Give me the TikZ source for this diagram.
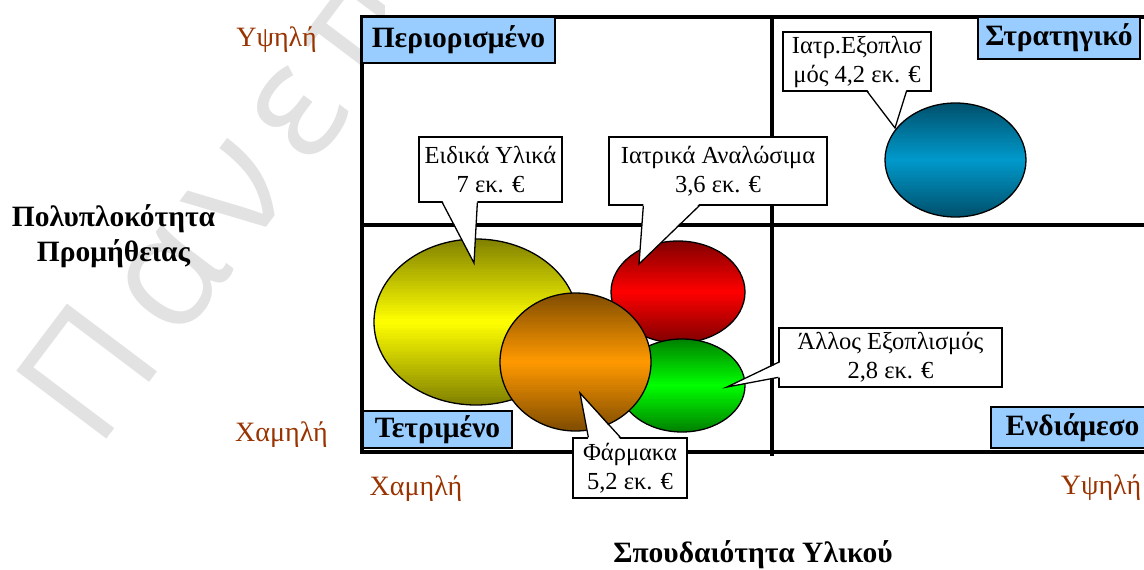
\documentclass[tikz,border=0pt]{standalone}
\usepackage{fontspec}
\setmainfont{Liberation Serif}
\newfontfamily\wmfont[LetterSpace=12]{Open Sans}
\usetikzlibrary{shapes.geometric,calc}
\definecolor{axbrown}{HTML}{993300}
\definecolor{lblue}{HTML}{99CCFF}
\definecolor{wmgray}{RGB}{226,226,226}
\definecolor{yelD}{HTML}{808000}
\definecolor{yelL}{HTML}{FFFF00}
\definecolor{redD}{HTML}{800000}
\definecolor{redL}{HTML}{FF0000}
\definecolor{grnD}{HTML}{008000}
\definecolor{grnL}{HTML}{00FF00}
\definecolor{orgD}{HTML}{7F4C00}
\definecolor{orgL}{HTML}{FF9900}
\definecolor{bluD}{HTML}{00506B}
\definecolor{bluL}{HTML}{0099CC}
\tikzset{
  callbox/.style={draw=black, line width=1.3pt, fill=white, inner sep=0pt, align=center,
    font=\fontsize{24.5}{29}\selectfont},
  quadlabel/.style={draw=black, line width=1.3pt, fill=lblue, inner sep=0pt,
    font=\fontsize{29.5}{32}\bfseries\selectfont},
  bubble/.style={ellipse, draw=black, line width=1.3pt, inner sep=0pt},
  axlabel/.style={text=axbrown, inner sep=0pt, anchor=base, font=\fontsize{28}{32}\selectfont},
  axtitle/.style={align=center, inner sep=0pt, font=\fontsize{29.5}{35}\bfseries\selectfont},
  gridline/.style={line width=4.5pt},
  ptrline/.style={line width=1.3pt, line join=miter}
}
% vertical gradient (dark-light-dark) inside an ellipse: cx, cy, rx, ry, dark, light
\newcommand\gradbubble[6]{%
  \begin{scope}
    \clip (#1,#2) ellipse [x radius=#3, y radius=#4];
    \foreach \i in {0,...,59}{%
      \pgfmathsetmacro\pp{100*(1-abs(2*(\i+0.5)/60-1))}%
      \fill[#6!\pp!#5] (#1-#3-2, #2-#4+\i*#4/30) rectangle (#1+#3+2, #2-#4+\i*#4/30+#4/30+0.6);
    }
  \end{scope}}
\begin{document}
\begin{tikzpicture}[x=1pt,y=-1pt]
\useasboundingbox (0,0) rectangle (1144,570);
\fill[white] (0,0) rectangle (1144,570);
% watermark
\begin{scope}
\clip (0,0) rectangle (384,570);
\node[anchor=base west, rotate=53, inner sep=0pt, text=wmgray, font=\fontsize{158}{158}\wmfont] (wm) at (97,452) {Πανεπιστήμιο};
\end{scope}
% grid
\fill[white] (362,17) rectangle (1152,452);
\draw[gridline] (362,17) rectangle (1152,452);
\draw[gridline] (362,225) -- (1152,225);
\draw[gridline] (772,17) -- (772,456);
% bubbles
\gradbubble{476}{322}{102}{83}{yelD}{yelL}
\node[bubble, minimum width=204pt, minimum height=166pt] (yel) at (476,322) {};
\gradbubble{678}{292}{67}{51}{redD}{redL}
\node[bubble, minimum width=134pt, minimum height=102pt] (red) at (678,292) {};
\gradbubble{682}{385.5}{63}{46.5}{grnD}{grnL}
\node[bubble, minimum width=126pt, minimum height=93pt] (grn) at (682,385.5) {};
\gradbubble{575.5}{362}{75.5}{69}{orgD}{orgL}
\node[bubble, minimum width=151pt, minimum height=138pt] (org) at (575.5,362) {};
\gradbubble{955.5}{160}{70.5}{57}{bluD}{bluL}
\node[bubble, minimum width=141pt, minimum height=114pt] (blu) at (955.5,160) {};
% callout 1
\node[callbox, minimum width=143pt, minimum height=65pt] (c1) at (490.5,169.5) {Ειδικά Υλικά\\7 εκ. €};
\coordinate (t1) at (474,263);
\fill[white] ($(c1.south west)+(24,-2)$) -- (t1) -- ($(c1.south west)+(59,-2)$) -- cycle;
\draw[ptrline] ($(c1.south west)+(24,0)$) -- (t1) -- ($(c1.south west)+(59,0)$);
% callout 2
\node[callbox, minimum width=218pt, minimum height=68pt] (c2) at (718,171) {Ιατρικά Αναλώσιμα\\3,6 εκ. €};
\coordinate (t2) at (639,264);
\fill[white] ($(c2.south west)+(35,-2)$) -- (t2) -- ($(c2.south west)+(91,-2)$) -- cycle;
\draw[ptrline] ($(c2.south west)+(35,0)$) -- (t2) -- ($(c2.south west)+(91,0)$);
% callout 3
\node[callbox, minimum width=148pt, minimum height=59pt] (c3) at (857,61.5) {Ιατρ.Εξοπλισ\\μός 4,2 εκ. €};
\coordinate (t3) at (895,128);
\fill[white] ($(c3.south west)+(85,-2)$) -- (t3) -- ($(c3.south west)+(124,-2)$) -- cycle;
\draw[ptrline] ($(c3.south west)+(85,0)$) -- (t3) -- ($(c3.south west)+(124,0)$);
% callout 4
\node[callbox, minimum width=223pt, minimum height=59pt] (c4) at (890.5,357.5) {Άλλος Εξοπλισμός\\2,8 εκ. €};
\coordinate (t4) at (727,387);
\fill[white] ($(c4.north west)+(2,35)$) -- (t4) -- ($(c4.north west)+(2,50)$) -- cycle;
\draw[ptrline] ($(c4.north west)+(0,35)$) -- (t4) -- ($(c4.north west)+(0,50)$);
% callout 5
\node[callbox, minimum width=114pt, minimum height=60pt] (c5) at (630,468) {Φάρμακα\\5,2 εκ. €};
\coordinate (t5) at (580,393);
\fill[white] ($(c5.north west)+(16,2)$) -- (t5) -- ($(c5.north west)+(48,2)$) -- cycle;
\draw[ptrline] ($(c5.north west)+(16,0)$) -- (t5) -- ($(c5.north west)+(48,0)$);
% quadrant labels
\node[quadlabel, minimum width=193pt, minimum height=46pt] (q1) at (458.5,40) {Περιορισμένο};
\node[quadlabel, minimum width=162pt, minimum height=42pt] (q2) at (1059,38) {Στρατηγικό};
\node[quadlabel, minimum width=149pt, minimum height=37pt] (q3) at (437.5,429.5) {Τετριμένο};
\node[quadlabel, minimum width=163pt, minimum height=41pt] (q4) at (1072.5,427.5) {Ενδιάμεσο};
% axis labels
\node[axlabel] (yh) at (276.5,46) {Υψηλή};
\node[axlabel] (yl) at (281.5,441) {Χαμηλή};
\node[axlabel] (xl) at (416,495) {Χαμηλή};
\node[axlabel] (xh) at (1101,494) {Υψηλή};
\node[axtitle] (ytitle) at (113.5,236) {Πολυπλοκότητα\\Προμήθειας};
\node[axtitle] (xtitle) at (753,555) {Σπουδαιότητα Υλικού};
\end{tikzpicture}
\end{document}
